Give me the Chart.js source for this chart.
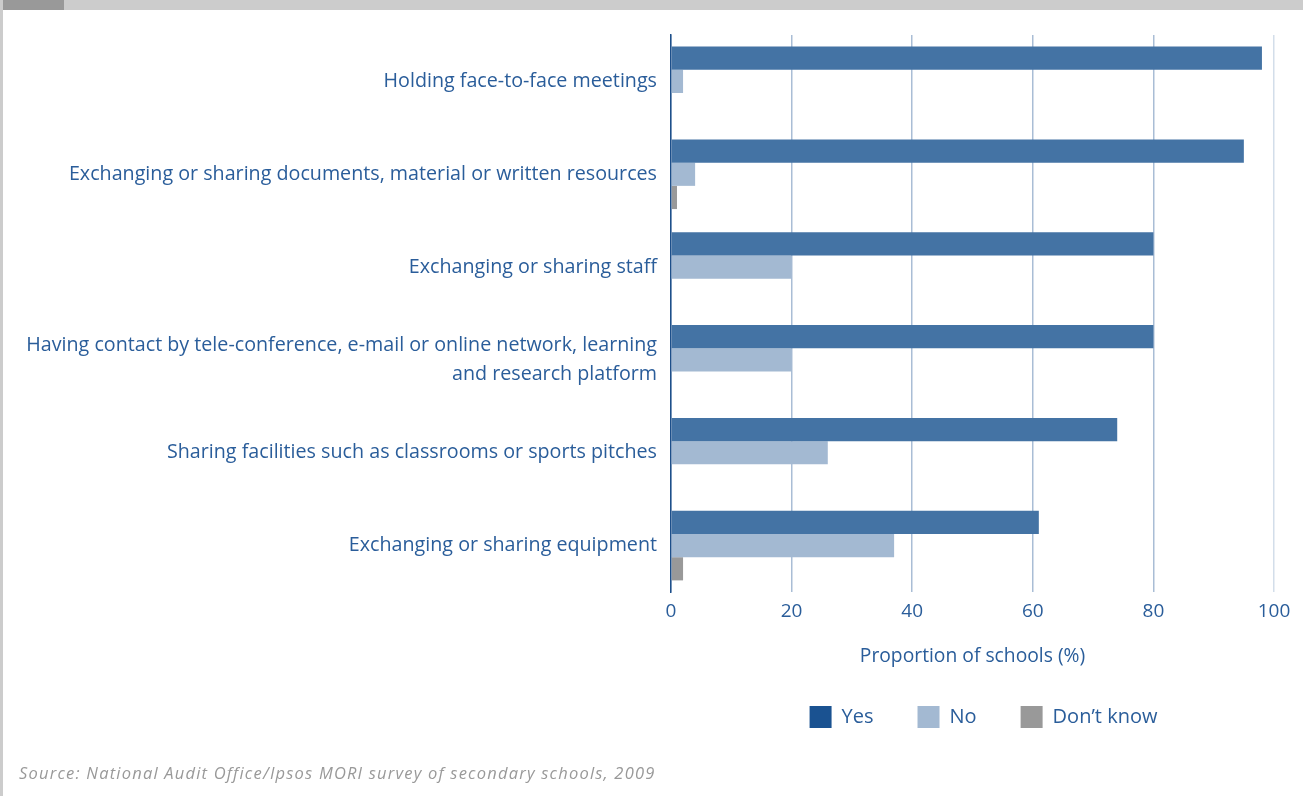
<!DOCTYPE html>
<html>
<head>
<meta charset="utf-8">
<script src="https://cdn.jsdelivr.net/npm/chart.js@4"></script>
<style>
  html, body { margin: 0; padding: 0; background: #fff; }
  body { width: 1303px; height: 796px; position: relative; overflow: hidden; font-family: "Open Sans", sans-serif; }
  #topbar { position: absolute; left: 0; top: 0; width: 1303px; height: 10px; background: #cccccc; }
  #topbar .tab { position: absolute; left: 3px; top: 0; width: 61px; height: 10px; background: #999999; }
  #leftbar { position: absolute; left: 0; top: 0; width: 3px; height: 796px; background: #cccccc; }
  #wrap { position: absolute; left: 0; top: 0; width: 1303px; height: 796px; }
  #source { position: absolute; left: 19px; top: 761px; font-size: 16.5px; letter-spacing: 1.2px; font-style: italic; color: #999999; }
</style>
</head>
<body>
<div id="wrap"><canvas id="chart"></canvas></div>
<div id="topbar"><div class="tab"></div></div>
<div id="leftbar"></div>
<div id="source">Source: National Audit Office/Ipsos MORI survey of secondary schools, 2009</div>

<script>
const categories = [
  "Holding face-to-face meetings",
  "Exchanging or sharing documents, material or written resources",
  "Exchanging or sharing staff",
  ["Having contact by tele-conference, e-mail or online network, learning", "and research platform"],
  "Sharing facilities such as classrooms or sports pitches",
  "Exchanging or sharing equipment"
];

const yesValues = [98, 95, 80, 80, 74, 61];
const noValues = [2, 4, 20, 20, 26, 37];
const dontKnowValues = [0, 1, 0, 0, 0, 2];

const xTicks = [0, 20, 40, 60, 80, 100];

const seriesNames = ["Yes", "No", "Don\u2019t know"];
const barColors = ["#4473a4", "#a3b9d2", "#999999"];
const legendColors = ["#1a5291", "#a3b9d2", "#999999"];

const textBlue = "#2a5d9a";
const FONT = "'Open Sans', sans-serif";

// nudge the legend a little right of the plot centre
const legendShift = {
  id: "legendShift",
  afterLayout(chart) {
    chart.legend.left += 11;
    chart.legend.right += 11;
  }
};

new Chart(document.getElementById("chart"), {
  type: "bar",
  plugins: [legendShift],
  data: {
    labels: categories,
    datasets: [yesValues, noValues, dontKnowValues].map((values, i) => ({
      label: seriesNames[i],
      data: values,
      backgroundColor: barColors[i],
      borderWidth: 0,
      categoryPercentage: 0.75,
      barPercentage: 1.0
    }))
  },
  options: {
    indexAxis: "y",
    responsive: true,
    maintainAspectRatio: false,
    animation: false,
    layout: { padding: { left: 0, right: 29, top: 35, bottom: 58 } },
    plugins: {
      tooltip: { enabled: false },
      legend: {
        position: "bottom",
        fullSize: false,
        labels: {
          boxWidth: 22,
          boxHeight: 22,
          padding: 44,
          color: textBlue,
          font: { family: FONT, size: 20 },
          generateLabels(chart) {
            const items = Chart.defaults.plugins.legend.labels.generateLabels(chart);
            items.forEach((item, i) => {
              item.fillStyle = legendColors[i];
              item.strokeStyle = legendColors[i];
              item.lineWidth = 0;
            });
            return items;
          }
        }
      }
    },
    scales: {
      x: {
        min: 0,
        max: 100,
        afterBuildTicks(scale) {
          scale.ticks = xTicks.map(v => ({ value: v }));
        },
        afterFit(scale) {
          scale.height = 70;
        },
        grid: {
          drawTicks: false,
          lineWidth: 1.5,
          color: ctx => ctx.index === xTicks.length - 1 ? "#d3deea" : "#a9bdd5"
        },
        border: { display: false },
        ticks: {
          padding: 8,
          color: textBlue,
          font: { family: FONT, size: 19 }
        },
        title: {
          display: true,
          text: "Proportion of schools (%)",
          color: textBlue,
          font: { family: FONT, size: 19.3 },
          padding: { top: 0, bottom: -6 }
        }
      },
      y: {
        afterFit(scale) {
          scale.width = 671;
        },
        grid: { display: false, drawTicks: false },
        border: { display: true, color: "#1d4f8a", width: 1.5 },
        ticks: {
          padding: 14,
          color: textBlue,
          font: { family: FONT, size: 19.7, lineHeight: 1.45 }
        }
      }
    }
  }
});
</script>
</body>
</html>
